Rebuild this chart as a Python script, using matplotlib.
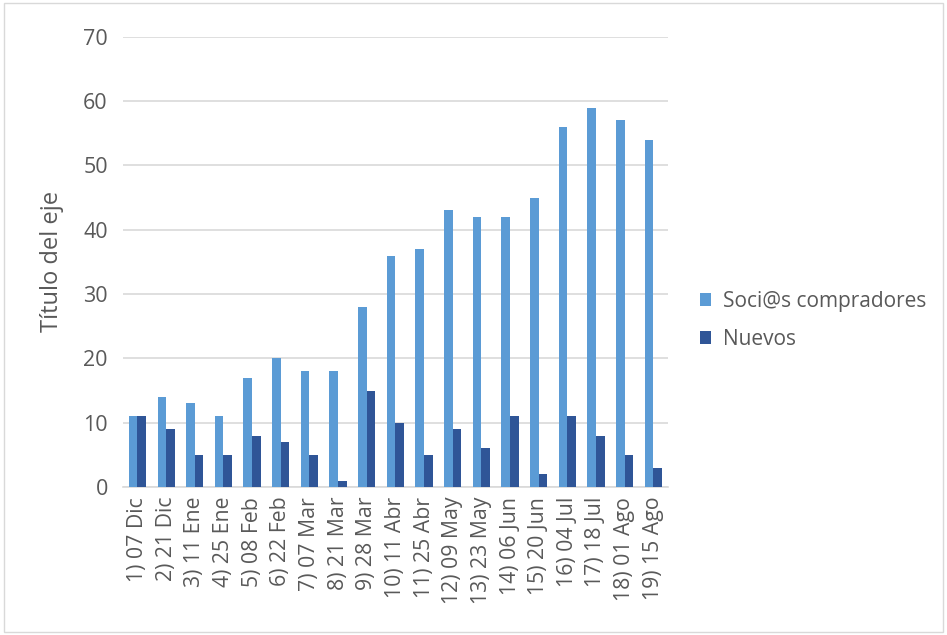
import numpy as np
import matplotlib.pyplot as plt
from matplotlib.patches import Rectangle

plt.rcParams['font.family'] = ['Open Sans', 'DejaVu Sans']

categories = ['1) 07 Dic', '2) 21 Dic', '3) 11 Ene', '4) 25 Ene', '5) 08 Feb',
              '6) 22 Feb', '7) 07 Mar', '8) 21 Mar', '9) 28 Mar', '10) 11 Abr',
              '11) 25 Abr', '12) 09 May', '13) 23 May', '14) 06 Jun', '15) 20 Jun',
              '16) 04 Jul', '17) 18 Jul', '18) 01 Ago', '19) 15 Ago']
compradores = [11, 14, 13, 11, 17, 20, 18, 18, 28, 36, 37, 43, 42, 42, 45, 56, 59, 57, 54]
nuevos = [11, 9, 5, 5, 8, 7, 5, 1, 15, 10, 5, 9, 6, 11, 2, 11, 8, 5, 3]

txt = '#595959'
fig = plt.figure(figsize=(9.47, 6.35), dpi=100)
ax = fig.add_axes([0.130, 0.233, 0.575, 0.709])

x = np.arange(len(categories))
w = 0.3
ax.bar(x - w / 2, compradores, w, color='#5B9BD5', label='Soci@s compradores', zorder=3)
ax.bar(x + w / 2, nuevos, w, color='#2F5597', label='Nuevos', zorder=3)

ax.set_xlim(-0.5, len(categories) - 0.5)
ax.set_ylim(0, 70)
ax.set_yticks(range(0, 71, 10))
ax.yaxis.grid(True, color='#D9D9D9', linewidth=1.2, zorder=0)
for s in ['top', 'right', 'left']:
    ax.spines[s].set_visible(False)
ax.spines['bottom'].set_color('#D9D9D9')
ax.spines['bottom'].set_linewidth(1.2)
ax.tick_params(axis='both', length=0, colors=txt)
ax.tick_params(axis='y', labelsize=15.5, pad=11)
ax.tick_params(axis='x', pad=7)
ax.set_xticks(x)
ax.set_xticklabels(categories, rotation=90, fontsize=15.3, color=txt)
ax.set_ylabel('Título del eje', fontsize=17, color=txt, labelpad=14)

ax.legend(loc='center left', bbox_to_anchor=(1.025, 0.37), frameon=False,
          fontsize=15, labelcolor=txt, handlelength=0.55, handleheight=0.55,
          labelspacing=0.8, handletextpad=0.55)

fig.patches.append(Rectangle((0.004, 0.004), 0.992, 0.992, transform=fig.transFigure,
                             fill=False, edgecolor='#D9D9D9', linewidth=1))

fig.savefig('out.png', dpi=100)
